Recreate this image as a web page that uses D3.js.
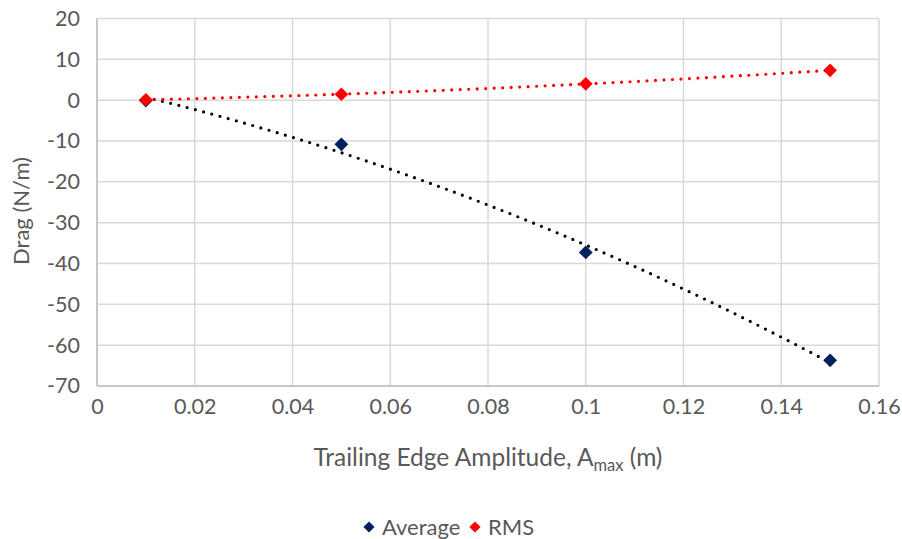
<!DOCTYPE html>
<html><head><meta charset="utf-8">
<script src="https://cdn.jsdelivr.net/npm/d3@7"></script>
<style>body{margin:0;background:#fff}svg{display:block}text{font-family:Lato,"Open Sans",sans-serif;fill:#595959}</style>
</head><body><svg id="c" width="902" height="539"></svg>
<script>
const amplitude = [0.01, 0.05, 0.10, 0.15];
const averageDrag = [-0.1, -10.8, -37.3, -63.7];
const rmsDrag = [0.1, 1.45, 4.0, 7.3];
const xTicks = [0, 0.02, 0.04, 0.06, 0.08, 0.1, 0.12, 0.14, 0.16];
const yTicks = [20, 10, 0, -10, -20, -30, -40, -50, -60, -70];
const seriesNames = ["Average", "RMS"];
const seriesColors = ["#002060", "#ff0000"];

const svg = d3.select("#c");
const x = d3.scaleLinear().domain([0, 0.16]).range([97, 879]);
const y = d3.scaleLinear().domain([-70, 20]).range([386, 18.5]);

// grid
svg.append("g").selectAll("line").data(yTicks).join("line")
  .attr("x1", x(0)).attr("x2", x(0.16)).attr("y1", d => y(d)).attr("y2", d => y(d))
  .attr("stroke", "#d9d9d9").attr("stroke-width", 1.5);
svg.append("g").selectAll("line").data(xTicks).join("line")
  .attr("y1", y(20)).attr("y2", y(-70)).attr("x1", d => x(d)).attr("x2", d => x(d))
  .attr("stroke", "#d9d9d9").attr("stroke-width", 1.5);
// axis lines
svg.append("line").attr("x1", x(0)).attr("x2", x(0)).attr("y1", y(20)).attr("y2", y(-70)).attr("stroke", "#bfbfbf").attr("stroke-width", 1.5);
svg.append("line").attr("x1", x(0)).attr("x2", x(0.16)).attr("y1", y(-70)).attr("y2", y(-70)).attr("stroke", "#bfbfbf").attr("stroke-width", 1.5);

// tick labels
const xAxis = d3.axisBottom(x).tickValues(xTicks).tickSize(0).tickPadding(13).tickFormat(d => String(d));
const gx = svg.append("g").attr("transform", `translate(0,${y(-70)})`).call(xAxis);
gx.select(".domain").remove();
gx.selectAll("text").style("font-size", "21.5px").style("fill", "#595959").style("font-family", "Lato");
const yAxis = d3.axisLeft(y).tickValues(yTicks).tickSize(0).tickPadding(17).tickFormat(d => String(d));
const gy = svg.append("g").attr("transform", `translate(${x(0)},0)`).call(yAxis);
gy.select(".domain").remove();
gy.selectAll("text").style("font-size", "21.5px").style("fill", "#595959").style("font-family", "Lato");

// quadratic least-squares trendline
function polyFit(xs, ys) {
  let S = [[0,0,0],[0,0,0],[0,0,0]], T = [0,0,0];
  xs.forEach((xi, i) => {
    const p = [1, xi, xi*xi];
    for (let a = 0; a < 3; a++) { T[a] += p[a]*ys[i]; for (let b = 0; b < 3; b++) S[a][b] += p[a]*p[b]; }
  });
  const M = S.map((r, i) => [...r, T[i]]);
  for (let i = 0; i < 3; i++) {
    for (let k = i+1; k < 3; k++) {
      const f = M[k][i]/M[i][i];
      for (let j = i; j < 4; j++) M[k][j] -= f*M[i][j];
    }
  }
  const c = [0,0,0];
  for (let i = 2; i >= 0; i--) {
    let s = M[i][3];
    for (let j = i+1; j < 3; j++) s -= M[i][j]*c[j];
    c[i] = s/M[i][i];
  }
  return xv => c[0] + c[1]*xv + c[2]*xv*xv;
}
const trendColors = ["#000000", "#ff0000"];
[averageDrag, rmsDrag].forEach((vals, si) => {
  const f = polyFit(amplitude, vals);
  const pts = d3.range(0, 101).map(i => { const xv = amplitude[0] + (amplitude[3]-amplitude[0])*i/100; return [xv, f(xv)]; });
  svg.append("path").attr("d", d3.line().x(d => x(d[0])).y(d => y(d[1]))(pts))
    .attr("fill", "none").attr("stroke", trendColors[si]).attr("stroke-width", 3.2)
    .attr("stroke-linecap", "round").attr("stroke-dasharray", "0 8.5");
});

// markers
const diamond = d3.symbol().type(d3.symbolDiamond2).size(120);
[averageDrag, rmsDrag].forEach((vals, si) => {
  svg.append("g").selectAll("path").data(vals).join("path")
    .attr("d", diamond)
    .attr("transform", (d, i) => `translate(${x(amplitude[i])},${y(d)})`)
    .attr("fill", seriesColors[si]);
});

// axis titles
const xt = svg.append("text").attr("x", 488).attr("y", 466).attr("text-anchor", "middle").style("font-size", "24.5px");
xt.append("tspan").text("Trailing Edge Amplitude, A");
xt.append("tspan").attr("dy", 5).style("font-size", "16.5px").text("max");
xt.append("tspan").attr("dy", -5).text(" (m)");
svg.append("text").attr("transform", "translate(29,211) rotate(-90)").attr("text-anchor", "middle").style("font-size", "22px").text("Drag (N/m)");

// legend
const legX = [369, 475];
seriesNames.forEach((n, i) => {
  svg.append("path").attr("d", d3.symbol().type(d3.symbolDiamond2).size(80)).attr("transform", `translate(${legX[i]},527)`).attr("fill", seriesColors[i]);
  svg.append("text").attr("x", legX[i] + 13).attr("y", 534.5).style("font-size", "22px").text(n);
});
</script></body></html>
